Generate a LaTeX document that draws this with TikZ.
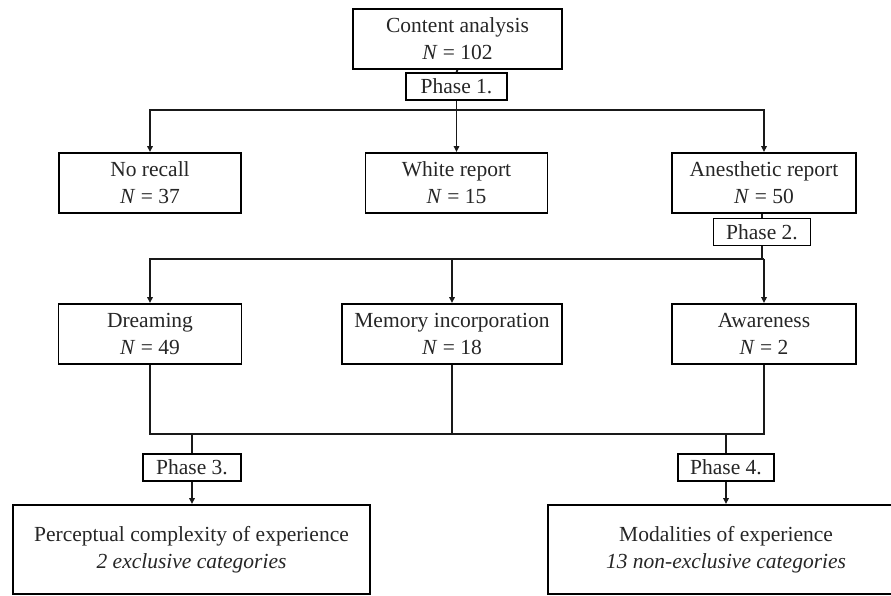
\documentclass[tikz,border=0pt]{standalone}
\usepackage{fontspec}
\setmainfont{Liberation Serif}
\usetikzlibrary{arrows.meta}
\tikzset{
  box/.style={draw=black, line width=1.9pt, fill=white, align=center, inner sep=0pt,
    font=\fontsize{21.5}{27}\selectfont, text=black!85},
  phasebox/.style={box, minimum height=27pt},
  conn/.style={line width=1.8pt, draw=black!90},
  arr/.style={conn, -{Triangle[length=6pt,width=5.5pt]}}
}
\begin{document}
\begin{tikzpicture}[x=1pt,y=-1pt]
\useasboundingbox (0,0) rectangle (891,595);
% nodes
\node[box, minimum width=209pt, minimum height=60pt] (content) at (457.5,39) {Content analysis\\\textit{N} = 102};
\node[phasebox, minimum width=101pt] (p1) at (456.5,86.5) {Phase 1.};
\node[box, minimum width=182pt, minimum height=60pt] (norecall) at (150,183) {No recall\\\textit{N} = 37};
\node[box, minimum width=182pt, minimum height=60pt] (white) at (456.5,183) {White report\\\textit{N} = 15};
\node[box, minimum width=184pt, minimum height=60pt] (anest) at (764,183) {Anesthetic report\\\textit{N} = 50};
\node[phasebox, minimum width=97pt] (p2) at (762,232) {Phase 2.};
\node[box, minimum width=183pt, minimum height=60pt] (dream) at (150,334) {Dreaming\\\textit{N} = 49};
\node[box, minimum width=220pt, minimum height=60pt] (memory) at (452,334) {Memory incorporation\\\textit{N} = 18};
\node[box, minimum width=184pt, minimum height=60pt] (aware) at (764,334) {Awareness\\\textit{N} = 2};
\node[phasebox, minimum width=98pt] (p3) at (192,467.5) {Phase 3.};
\node[phasebox, minimum width=96pt] (p4) at (726,467.5) {Phase 4.};
\node[box, minimum width=357pt, minimum height=89pt] (percept) at (191.5,549.5) {Perceptual complexity of experience\\\textit{2 exclusive categories}};
\node[box, minimum width=356pt, minimum height=89pt] (modal) at (726,549.5) {Modalities of experience\\\textit{13 non-exclusive categories}};
% split coordinates
\coordinate (s1) at (456.5,110);
\coordinate (s2) at (764,259);
\coordinate (s3) at (452,434);
% connectors
\draw[conn] (content.south) -- (p1.north);
\draw[conn] (p1.south) -- (s1);
\draw[arr] (s1) -| (norecall.north);
\draw[arr] (s1) -- (white.north);
\draw[arr] (s1) -| (anest.north);
\draw[conn] (anest.south -| p2) -- (p2.north);
\draw[conn] (p2.south) -- (p2.south |- s2);
\draw[arr] (s2) -| (dream.north);
\draw[arr] (s2) -| (memory.north);
\draw[arr] (s2) -- (aware.north);
\draw[conn] (dream.south) |- (s3) -| (aware.south);
\draw[conn] (memory.south) -- (s3);
\draw[conn] (s3 -| p3) -- (p3.north);
\draw[conn] (s3 -| p4) -- (p4.north);
\draw[arr] (p3.south) -- (p3.south |- percept.north);
\draw[arr] (p4.south) -- (p4.south |- modal.north);
\end{tikzpicture}
\end{document}
